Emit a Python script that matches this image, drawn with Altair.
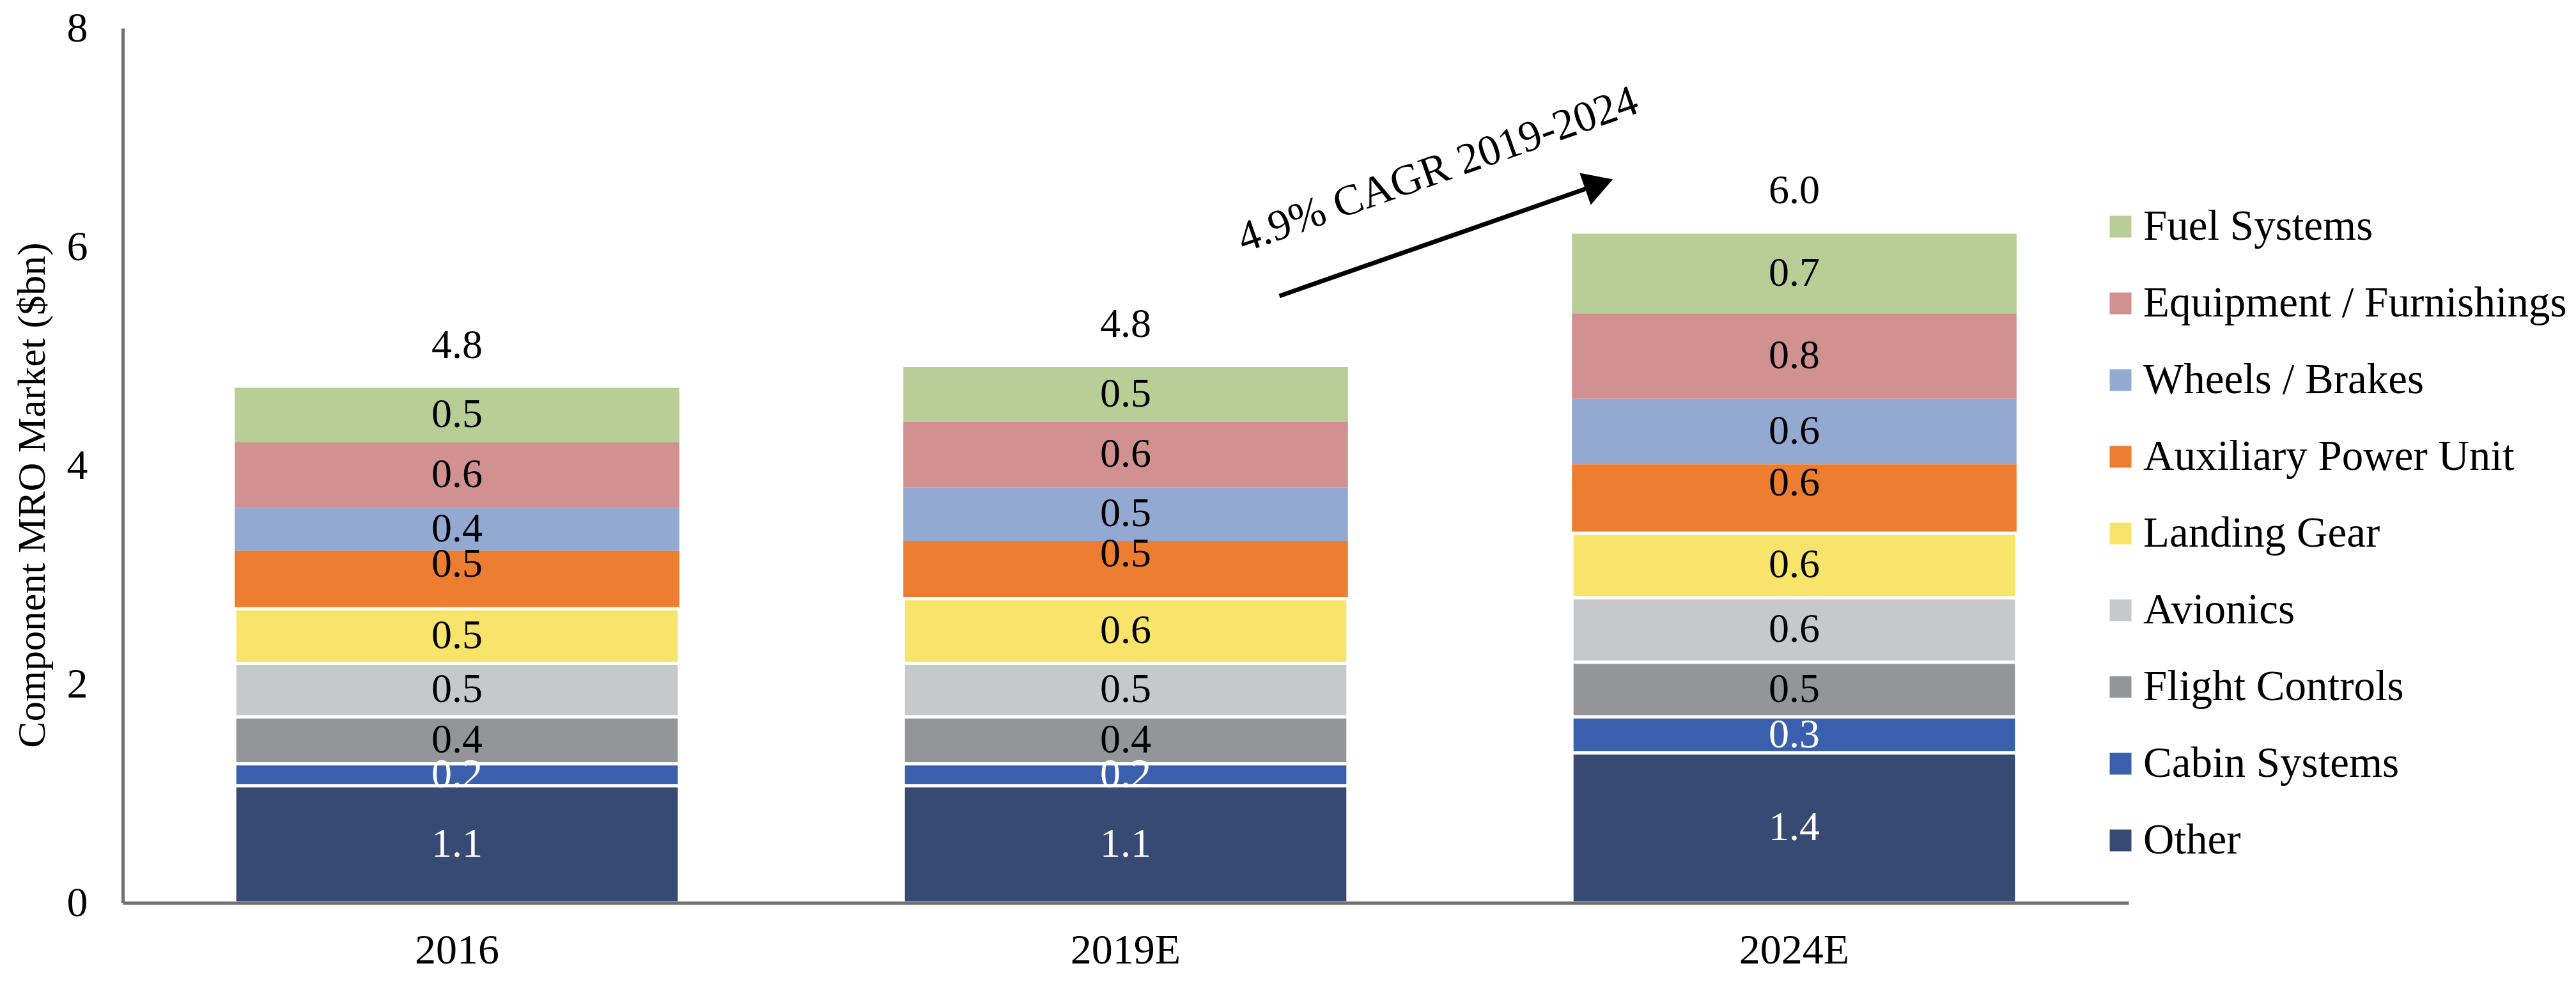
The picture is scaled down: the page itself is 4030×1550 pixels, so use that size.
import altair as alt
import pandas as pd

FONT = "Liberation Serif"

years = ["2016", "2019E", "2024E"]
categories = ["Fuel Systems", "Equipment / Furnishings", "Wheels / Brakes",
              "Auxiliary Power Unit", "Landing Gear", "Avionics",
              "Flight Controls", "Cabin Systems", "Other"]
colors = ["#B9CE97", "#D19190", "#94A9D1", "#ED7D31", "#F9E46B",
          "#C7C8CA", "#939598", "#3A5FAC", "#364A73"]

v2016 = [0.50, 0.60, 0.39, 0.53, 0.50, 0.49, 0.43, 0.20, 1.07]
v2019 = [0.50, 0.60, 0.49, 0.53, 0.59, 0.49, 0.43, 0.20, 1.07]
v2024 = [0.73, 0.78, 0.60, 0.63, 0.59, 0.59, 0.50, 0.33, 1.37]
total_labels = ["4.8", "4.8", "6.0"]

# annotation (x in units of category steps from the left edge, y in $bn)
cagr_text = "4.9% CAGR 2019-2024"
arrow_x = [1.730, 2.208]
arrow_y = [5.55, 6.573]
cagr_pos = [1.967, 6.70]

rows = []
for yr, vals, tl in zip(years, [v2016, v2019, v2024], total_labels):
    for i, (c, v) in enumerate(zip(categories, vals)):
        rows.append({"year": yr, "cat": c, "value": v,
                     "order": len(categories) - 1 - i, "total_label": tl})
df = pd.DataFrame(rows)

W, H = 3138, 1368
STEP = W / len(years)

base = alt.Chart(df).transform_stack(
    stack="value", as_=["v0", "v1"], groupby=["year"],
    sort=[alt.SortField("order", order="ascending")]
).transform_calculate(mid="(datum.v0 + datum.v1) / 2")

xenc = alt.X("year:N", sort=years,
             scale=alt.Scale(paddingInner=0.335, paddingOuter=0.1675),
             axis=alt.Axis(title=None, labelAngle=0, ticks=False, labelFontSize=66,
                           labelPadding=42, domainWidth=5, domainColor="#717171",
                           zindex=1, labelFont=FONT, labelColor="black"))

yscale = alt.Scale(domain=[0, 8], nice=False)

bars = base.mark_bar(stroke="white").encode(
    x=xenc,
    y=alt.Y("v0:Q", scale=yscale,
            axis=alt.Axis(values=[0, 2, 4, 6, 8], format="d", grid=False, ticks=False,
                          title="Component MRO Market ($bn)", titleFontSize=62,
                          titleFont=FONT, titleFontWeight="normal", titleColor="black",
                          titleAngle=270, titleX=-142, titleY=730,
                          titleBaseline="middle", titleAlign="center",
                          labelFontSize=66, labelFont=FONT, labelColor="black",
                          labelPadding=55, domainWidth=5, domainColor="#717171",
                          zindex=1)),
    y2="v1:Q",
    color=alt.Color("cat:N", scale=alt.Scale(domain=categories, range=colors),
                    legend=alt.Legend(title=None, orient="none", legendX=3092,
                                      legendY=277, labelFontSize=67, labelFont=FONT,
                                      labelColor="black", symbolType="square",
                                      symbolSize=1156, symbolStrokeWidth=0,
                                      labelOffset=2, rowPadding=52,
                                      labelLimit=1200, padding=0)),
    strokeWidth=alt.condition("datum.order <= 4", alt.value(5), alt.value(0)),
)

seg_text = base.transform_filter("datum.cat != 'Auxiliary Power Unit'").mark_text(
    font=FONT, fontSize=64, baseline="middle"
).encode(
    x=alt.X("year:N", sort=years),
    y=alt.Y("mid:Q"),
    text=alt.Text("value:Q", format=".1f"),
    color=alt.condition("datum.order <= 1", alt.value("white"), alt.value("black")),
)

apu_text = base.transform_filter("datum.cat == 'Auxiliary Power Unit'").mark_text(
    font=FONT, fontSize=64, baseline="middle", dy=-24, color="black"
).encode(
    x=alt.X("year:N", sort=years),
    y=alt.Y("mid:Q"),
    text=alt.Text("value:Q", format=".1f"),
)

totals = alt.Chart(df).transform_aggregate(
    total="sum(value)", groupby=["year", "total_label"]
).mark_text(font=FONT, fontSize=64, baseline="middle", dy=-66, color="black").encode(
    x=alt.X("year:N", sort=years),
    y=alt.Y("total:Q"),
    text="total_label:N",
)

ann_df = pd.DataFrame({"y": [arrow_y[0]], "y2": [arrow_y[1]]})
arrow_line = alt.Chart(ann_df).mark_rule(color="black", strokeWidth=7).encode(
    x=alt.value(arrow_x[0] * STEP), x2=alt.value(arrow_x[1] * STEP),
    y=alt.Y("y:Q"), y2="y2:Q")

head_df = pd.DataFrame({"y": [arrow_y[1]]})
arrow_head = alt.Chart(head_df).mark_point(
    shape="triangle-right", filled=True, color="black", opacity=1,
    size=2800, angle=340.7, strokeWidth=0
).encode(x=alt.value(arrow_x[1] * STEP), y=alt.Y("y:Q"))

txt_df = pd.DataFrame({"y": [cagr_pos[1]], "t": [cagr_text]})
cagr = alt.Chart(txt_df).mark_text(
    font=FONT, fontSize=68, angle=340.5, baseline="middle", align="center", color="black"
).encode(x=alt.value(cagr_pos[0] * STEP), y=alt.Y("y:Q"), text="t:N")

chart = alt.layer(bars, seg_text, apu_text, totals, arrow_line, arrow_head, cagr).properties(
    width=W, height=H,
    autosize=alt.AutoSizeParams(type="none"),
    padding={"left": 192, "top": 44, "right": 4030 - 192 - W, "bottom": 1550 - 44 - H},
    background="white",
).configure_view(stroke=None)

chart.save("out.html", embed_options={"renderer": "svg", "actions": False})
